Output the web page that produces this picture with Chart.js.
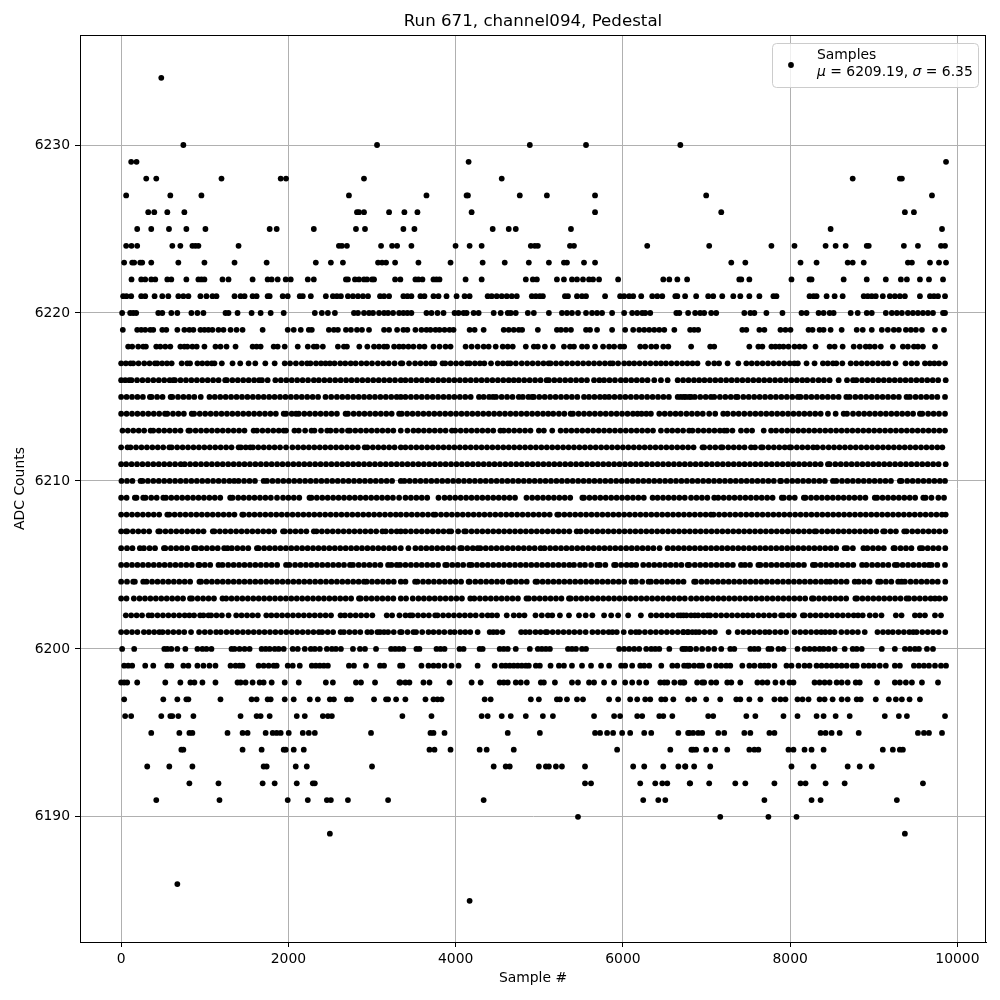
<!DOCTYPE html>
<html>
<head>
<meta charset="utf-8">
<title>Run 671, channel094, Pedestal</title>
<script src="https://cdn.jsdelivr.net/npm/chart.js@4"></script>
<style>
  html, body { margin: 0; padding: 0; background: #fff; }
  canvas { display: block; }
</style>
</head>
<body>
<canvas id="chart" width="1000" height="1000"></canvas>
<script>
// Sample numbers, one list per ADC value
const r6234 = [480];
const r6230 = [744,3060,4887,5559,6687];
const r6229 = [120,184,4155,9864];
const r6228 = [300,420,1200,1908,1972,2904,4551,8748,9312,9336];
const r6227 = [60,588,960,2724,3651,4131,4147,4767,5091,5667,6996,9696];
const r6226 = [324,396,552,756,2820,2844,2904,3204,3387,3543,4191,5667,7176,9372,9480];
const r6225 = [192,360,572,780,1008,1776,1860,2304,2808,2916,3375,3507,4443,4635,4719,5379,8484,9816];
const r6224 = [60,124,192,612,708,852,888,924,1404,2604,2640,2700,3108,3240,3300,3471,3999,4167,4311,4899,4947,4983,5367,5415,6291,7032,7776,8052,8424,8544,8664,8916,8940,9360,9528,9804,9852];
const r6223 = [36,132,156,228,252,360,684,996,1356,1740,2328,2508,2652,3072,3120,3168,3276,3555,3939,4323,4587,4875,5115,5295,5331,5535,5667,7296,7464,8124,8316,8688,8748,8880,9408,9456,9672,9780,9864];
const r6222 = [124,240,288,360,408,552,600,780,924,960,996,1212,1284,1572,1752,1800,1872,1968,2028,2232,2304,2688,2712,2796,2844,2904,2940,3000,3024,3276,3339,3519,3555,3603,3735,3771,3807,4119,4311,4839,4923,4971,5211,5295,5391,5451,5523,5595,5643,5715,5943,6483,6555,6651,6768,7392,7416,7512,8016,8232,8256,8640,8916,9144,9324,9396,9552,9660,9828];
const r6221 = [24,64,120,240,288,400,492,564,684,744,804,948,1020,1092,1140,1356,1428,1476,1572,1620,1752,1776,1932,1992,2136,2172,2268,2448,2532,2580,2628,2712,2772,2832,2892,2952,3096,3144,3204,3375,3423,3471,3579,3627,3735,3795,3891,4011,4107,4167,4383,4431,4491,4551,4611,4671,4731,4911,4959,5007,5043,5307,5343,5451,5511,5559,5787,5967,6015,6075,6123,6219,6351,6411,6471,6627,6651,6744,6876,7020,7080,7188,7320,7404,7512,7632,7800,7836,8232,8280,8316,8436,8532,8628,8880,8928,8976,9024,9108,9192,9252,9312,9372,9552,9672,9720,9768,9852];
const r6220 = [12,108,144,180,444,492,600,672,840,912,984,1248,1284,1392,1560,1668,1788,1944,2316,2400,2472,2556,2784,2832,2904,2964,3012,3084,3144,3192,3252,3324,3375,3423,3471,3651,3711,3783,3855,3987,4035,4095,4131,4215,4275,4455,4539,4623,4659,4719,4863,4935,5115,5271,5331,5391,5463,5559,5631,5691,5751,5871,6015,6111,6171,6231,6267,6327,6639,6675,6780,6864,6924,6972,7056,7116,7452,7524,7572,7716,7908,8136,8196,8340,8400,8472,8520,8724,8808,8916,8976,9144,9216,9276,9336,9408,9468,9528,9588,9648,9708,9828,9852];
const r6219 = [20,192,240,288,348,384,492,540,672,756,816,864,948,996,1044,1092,1164,1224,1308,1380,1452,1692,1992,2064,2148,2244,2280,2484,2544,2592,2688,2748,2820,2880,2964,3144,3204,3300,3375,3423,3519,3591,3651,3699,3759,3807,3867,3927,3975,4167,4227,4335,4575,4635,4695,4755,4795,4983,5211,5259,5319,5379,5559,5607,5691,5871,6027,6123,6195,6255,6315,6375,6435,6495,6615,6804,6852,6900,7428,7476,7632,7692,7884,7944,8004,8220,8268,8352,8400,8484,8616,8796,8868,8976,9096,9168,9240,9300,9384,9444,9504,9576,9732,9840];
const r6218 = [84,132,204,264,296,420,468,528,588,708,756,792,852,904,996,1128,1188,1260,1368,1572,1620,1668,1824,1872,1956,2112,2232,2304,2340,2412,2592,2664,2700,2848,2944,3024,3084,3144,3180,3264,3324,3375,3435,3495,3567,3627,3735,3807,3879,3939,4119,4191,4263,4335,4395,4479,4563,4623,4683,4839,4935,4983,5067,5163,5295,5367,5415,5511,5571,5667,5763,5835,5895,5967,6015,6207,6267,6339,6399,6483,6543,6816,7044,7092,7512,7620,7668,7776,7824,7872,7920,7980,8052,8112,8172,8304,8472,8532,8628,8760,8832,8904,8952,9012,9084,9228,9348,9408,9480,9528,9588,9732];
const r6217 = [0,56,112,144,208,276,340,404,432,490,548,604,724,790,824,912,970,1030,1084,1116,1204,1332,1424,1524,1604,1724,1836,1956,2020,2090,2160,2224,2264,2330,2390,2444,2496,2552,2620,2680,2745,2804,2872,2935,3000,3070,3135,3200,3270,3344,3363,3443,3515,3580,3645,3707,3747,3843,3875,3940,4005,4070,4135,4167,4230,4290,4343,4423,4503,4565,4623,4655,4720,4790,4855,4920,4985,5050,5111,5135,5200,5265,5330,5395,5460,5525,5590,5655,5720,5785,5847,5879,5943,6015,6075,6135,6200,6265,6330,6395,6455,6515,6580,6645,6710,6772,6832,6892,7020,7092,7150,7252,7380,7476,7540,7605,7670,7735,7800,7865,7930,7995,8050,8092,8196,8292,8392,8450,8512,8552,8624,8724,8790,8855,8920,8985,9050,9115,9172,9260,9380,9452,9516,9612,9670,9724,9780,9852];
const r6216 = [0,48,96,124,190,255,320,385,450,515,580,624,644,710,775,840,905,970,1035,1100,1165,1244,1264,1330,1395,1460,1525,1590,1650,1684,1752,1844,1910,1975,2040,2105,2170,2235,2304,2364,2430,2495,2560,2625,2690,2755,2820,2885,2950,3015,3080,3145,3210,3275,3344,3400,3465,3530,3595,3660,3725,3790,3855,3920,3985,4050,4115,4180,4245,4310,4375,4440,4505,4570,4635,4695,4755,4820,4885,4950,5015,5087,5115,5180,5245,5310,5375,5440,5505,5570,5655,5719,5775,5840,5905,5975,6035,6100,6165,6230,6295,6375,6455,6535,6655,6720,6785,6850,6912,6975,7040,7105,7170,7235,7300,7365,7430,7495,7560,7625,7690,7755,7820,7885,7950,8015,8080,8145,8204,8272,8340,8404,8472,8580,8680,8752,8792,8860,8925,8990,9055,9120,9185,9250,9315,9380,9445,9510,9575,9640,9705,9770,9860];
const r6215 = [0,65,130,195,260,344,364,430,495,592,612,680,745,810,875,952,1056,1120,1185,1250,1315,1380,1445,1510,1575,1640,1705,1770,1835,1900,1965,2030,2095,2160,2225,2290,2355,2444,2512,2580,2645,2710,2775,2840,2905,2970,3035,3100,3165,3230,3295,3344,3400,3465,3530,3595,3660,3725,3790,3855,3920,3985,4050,4115,4180,4279,4335,4400,4447,4483,4550,4615,4680,4755,4803,4870,4915,4935,5000,5065,5130,5195,5260,5325,5390,5455,5535,5595,5660,5725,5783,5835,5900,5965,6030,6095,6160,6225,6290,6355,6420,6485,6550,6655,6727,6815,6692,6752,6792,6860,6925,6990,7052,7092,7160,7225,7290,7352,7372,7440,7505,7570,7635,7700,7765,7830,7895,7960,8025,8092,8124,8190,8255,8320,8385,8450,8515,8580,8672,8712,8780,8845,8910,8975,9040,9105,9170,9235,9300,9392,9432,9500,9565,9630,9695,9760,9852];
const r6214 = [0,65,130,195,260,325,390,455,524,552,620,685,750,844,872,940,1005,1070,1135,1200,1265,1330,1395,1460,1525,1590,1655,1720,1785,1850,1944,1972,2040,2092,2124,2190,2255,2320,2385,2450,2515,2580,2684,2712,2780,2845,2910,2975,3040,3105,3170,3235,3324,3355,3420,3485,3550,3615,3680,3745,3810,3875,3940,4005,4070,4135,4200,4265,4330,4395,4460,4525,4590,4655,4720,4785,4850,4915,4980,5045,5107,5167,5235,5300,5375,5403,5470,5535,5600,5665,5730,5795,5860,5925,5990,6055,6120,6175,6223,6280,6335,6435,6500,6565,6630,6692,6760,6825,6890,6955,7032,7104,7200,7252,7320,7385,7452,7520,7585,7650,7715,7780,7845,7910,7975,8040,8105,8170,8235,8300,8365,8452,8544,8640,8680,8752,8820,8885,8950,9015,9080,9145,9210,9275,9340,9405,9470,9552,9580,9650,9715,9780,9852];
const r6213 = [16,80,145,210,275,352,384,450,515,580,645,710,804,824,890,955,1020,1085,1150,1215,1280,1345,1410,1475,1584,1624,1690,1755,1820,1885,1944,1972,2072,2124,2200,2276,2312,2390,2464,2504,2570,2640,2712,2736,2800,2865,2930,2995,3060,3125,3190,3255,3344,3423,3495,3555,3620,3685,3750,3815,3880,3955,3995,4060,4125,4190,4255,4320,4385,4450,4535,4575,4635,4700,4765,4830,4895,4995,5055,5155,5255,5320,5385,5450,5515,5580,5645,5710,5775,5840,5905,5970,6035,6100,6165,6230,6295,6360,6455,6527,6590,6655,6720,6792,6832,6900,6965,7030,7095,7160,7212,7244,7310,7412,7480,7545,7684,7772,7832,7900,7965,8030,8095,8160,8225,8290,8355,8420,8485,8550,8615,8680,8745,8810,8875,8940,9005,9070,9135,9200,9265,9330,9395,9460,9525,9590,9655,9720,9785,9852];
const r6212 = [0,76,112,178,243,308,373,438,503,576,604,670,735,800,865,930,995,1060,1125,1190,1255,1320,1404,1432,1490,1544,1576,1640,1705,1770,1835,1900,1972,2048,2115,2180,2245,2310,2375,2440,2505,2570,2635,2700,2765,2830,2912,2944,3010,3075,3140,3205,3270,3344,3400,3465,3530,3595,3660,3725,3790,3855,3920,3985,4050,4115,4180,4245,4310,4375,4440,4505,4570,4635,4700,4765,4830,4895,4960,5025,5090,5155,5220,5285,5350,5415,5480,5545,5610,5675,5740,5805,5870,5935,6000,6065,6130,6195,6260,6325,6390,6455,6520,6585,6650,6715,6780,6845,6952,6972,7040,7105,7172,7192,7260,7325,7390,7455,7532,7580,7652,7672,7740,7805,7870,7935,7992,8012,8080,8145,8210,8275,8324,8392,8460,8525,8590,8655,8720,8785,8850,8915,8980,9045,9110,9175,9240,9305,9370,9435,9500,9565,9630,9695,9760,9820];
const r6211 = [0,60,125,190,255,320,385,450,515,580,645,712,760,825,890,955,1020,1085,1150,1215,1280,1345,1410,1475,1540,1605,1670,1735,1800,1865,1930,1995,2060,2125,2190,2255,2320,2385,2450,2515,2580,2645,2710,2775,2840,2905,2970,3035,3100,3165,3230,3295,3360,3425,3490,3555,3620,3685,3750,3815,3880,3945,4010,4075,4140,4205,4270,4335,4400,4465,4530,4595,4660,4725,4790,4855,4920,4985,5050,5115,5180,5245,5310,5375,5440,5505,5570,5635,5700,5765,5830,5895,5960,6025,6090,6155,6220,6285,6350,6415,6480,6545,6610,6675,6740,6805,6870,6935,7000,7065,7130,7195,7260,7325,7390,7455,7520,7585,7650,7715,7780,7845,7910,7975,8040,8105,8170,8235,8300,8365,8452,8472,8540,8605,8670,8735,8800,8865,8930,8995,9060,9125,9190,9255,9320,9385,9450,9515,9580,9645,9710,9775,9860];
const r6210 = [4,70,135,232,256,320,385,450,515,580,645,710,775,840,905,970,1035,1100,1165,1230,1295,1352,1404,1470,1535,1600,1704,1744,1810,1875,1940,2005,2070,2135,2200,2265,2330,2395,2460,2525,2590,2655,2720,2785,2850,2915,2980,3045,3110,3175,3240,3344,3387,3450,3515,3580,3645,3710,3775,3840,3905,3970,4035,4100,4165,4230,4295,4360,4425,4490,4555,4620,4685,4750,4815,4880,4945,5010,5075,5140,5205,5270,5335,5400,5465,5530,5595,5660,5725,5790,5855,5920,5985,6050,6115,6180,6245,6310,6375,6440,6505,6570,6635,6700,6765,6830,6895,6960,7025,7090,7155,7220,7285,7350,7415,7480,7545,7610,7675,7740,7805,7880,7892,7960,8025,8090,8155,8220,8285,8350,8415,8512,8552,8620,8685,8750,8815,8880,8945,9010,9075,9140,9205,9312,9332,9400,9465,9530,9595,9660,9725,9790,9852];
const r6209 = [0,65,164,184,264,292,360,425,504,536,600,665,730,795,860,925,990,1055,1120,1185,1304,1332,1400,1465,1530,1595,1660,1725,1790,1864,1936,2000,2065,2130,2252,2276,2340,2405,2470,2535,2600,2665,2730,2795,2860,2925,2990,3055,3120,3185,3250,3324,3400,3465,3530,3595,3660,3795,3867,3930,3995,4060,4125,4190,4255,4320,4385,4450,4515,4580,4645,4710,4847,4915,4980,5045,5110,5175,5240,5305,5370,5515,5535,5600,5665,5730,5795,5860,5925,5990,6055,6120,6185,6250,6355,6415,6480,6545,6610,6675,6740,6815,6880,6945,7010,7092,7140,7205,7270,7335,7400,7465,7530,7595,7660,7725,7790,7900,7924,7990,8055,8164,8184,8250,8315,8380,8445,8510,8575,8640,8705,8770,8835,8900,9012,9040,9105,9170,9235,9300,9365,9430,9495,9592,9620,9690,9772,9840];
const r6208 = [0,65,130,195,260,325,390,455,552,576,640,705,770,835,900,965,1030,1095,1160,1225,1290,1355,1448,1464,1530,1595,1660,1725,1790,1855,1920,1985,2050,2115,2180,2245,2310,2375,2440,2505,2570,2635,2700,2765,2830,2895,2960,3025,3090,3155,3220,3285,3344,3410,3475,3540,3605,3670,3735,3759,3825,3890,3955,4020,4085,4150,4215,4280,4345,4410,4475,4540,4605,4670,4735,4800,4865,4930,4995,5060,5125,5215,5235,5300,5365,5430,5495,5560,5625,5690,5755,5820,5885,5950,6015,6080,6145,6210,6275,6340,6405,6470,6535,6600,6665,6730,6795,6860,6925,6990,7052,7084,7150,7215,7280,7345,7410,7475,7540,7605,7670,7735,7800,7865,7930,7995,8060,8125,8190,8255,8320,8385,8450,8515,8580,8645,8710,8775,8840,8905,8970,9035,9100,9165,9230,9295,9360,9425,9490,9555,9620,9685,9750,9815,9860];
const r6207 = [0,56,72,140,205,270,335,444,464,530,595,660,725,790,855,920,985,1096,1116,1180,1245,1310,1375,1440,1505,1570,1635,1700,1765,1830,1936,1956,2020,2085,2150,2215,2304,2336,2400,2465,2530,2595,2660,2725,2790,2855,2920,2985,3050,3124,3164,3230,3295,3344,3400,3465,3530,3595,3660,3725,3790,3855,3919,3947,4030,4103,4123,4190,4255,4320,4385,4450,4515,4580,4645,4710,4775,4840,4905,4970,5035,5100,5165,5230,5295,5360,5447,5495,5563,5630,5695,5760,5825,5890,5955,6020,6085,6150,6215,6280,6345,6410,6475,6540,6605,6670,6735,6800,6865,6930,6995,7060,7125,7190,7255,7320,7385,7450,7515,7580,7645,7710,7775,7840,7905,7970,8035,8100,8165,8230,8292,8312,8380,8445,8510,8575,8640,8705,8770,8835,8900,8965,9030,9112,9132,9200,9265,9364,9392,9460,9525,9590,9655,9720,9785,9855];
const r6206 = [0,70,135,224,272,340,405,512,528,595,660,725,790,872,896,960,1025,1090,1155,1232,1272,1324,1390,1455,1520,1624,1644,1710,1775,1840,1905,1970,2035,2100,2165,2230,2295,2360,2425,2490,2555,2620,2685,2750,2815,2880,2945,3010,3075,3140,3205,3270,3344,3435,3519,3585,3650,3715,3780,3845,3910,3975,4055,4075,4140,4205,4263,4295,4360,4425,4490,4555,4620,4685,4750,4815,4880,4945,5015,5063,5130,5195,5260,5325,5390,5455,5520,5585,5650,5715,5780,5845,5910,5975,6040,6105,6170,6235,6300,6365,6439,6535,6600,6665,6730,6795,6860,6925,6990,7055,7120,7185,7250,7315,7380,7445,7510,7575,7640,7705,7770,7835,7900,7965,8030,8095,8160,8225,8290,8355,8420,8485,8550,8652,8680,8750,8876,8924,8990,9055,9120,9236,9252,9320,9385,9450,9552,9580,9645,9710,9775,9855];
const r6205 = [0,65,130,195,260,325,390,455,520,585,650,715,780,845,924,936,1000,1065,1164,1212,1280,1345,1410,1475,1540,1605,1670,1735,1800,1865,1972,2012,2080,2145,2210,2275,2340,2405,2470,2535,2600,2665,2736,2772,2840,2905,2970,3035,3100,3192,3232,3296,3336,3400,3465,3530,3595,3660,3725,3790,3875,3895,3960,4025,4090,4163,4191,4255,4320,4385,4450,4515,4580,4645,4710,4775,4840,4905,4970,5035,5100,5165,5230,5295,5360,5415,5487,5547,5620,5695,5723,5790,5895,5915,5980,6045,6103,6159,6243,6310,6375,6440,6505,6570,6635,6700,6775,6792,6860,6925,6990,7055,7120,7185,7250,7315,7412,7460,7520,7620,7644,7710,7775,7840,7905,7970,8035,8100,8165,8272,8300,8365,8430,8495,8560,8625,8690,8755,8860,8912,8980,9045,9110,9175,9252,9280,9345,9410,9475,9540,9605,9660,9692,9760,9852];
const r6204 = [0,70,144,164,264,304,370,435,500,565,630,695,760,825,936,956,1020,1085,1150,1215,1280,1345,1410,1475,1540,1605,1670,1735,1800,1865,1930,1995,2060,2125,2190,2255,2320,2385,2450,2515,2580,2645,2710,2775,2840,2904,2936,3000,3065,3130,3195,3260,3344,3400,3515,3543,3610,3675,3740,3805,3870,3935,4000,4065,4155,4167,4235,4300,4365,4430,4495,4560,4635,4655,4720,4785,4850,4955,4975,5040,5105,5170,5235,5300,5365,5430,5495,5560,5625,5690,5755,5820,5885,5950,6015,6103,6155,6230,6307,6335,6400,6465,6530,6595,6660,6725,6852,6872,6940,7005,7070,7135,7200,7265,7330,7395,7460,7525,7590,7655,7720,7785,7850,7915,7980,8045,8110,8175,8240,8305,8370,8432,8480,8545,8610,8675,8772,8820,8884,8950,9052,9080,9145,9210,9292,9332,9372,9440,9505,9570,9635,9700,9765,9855];
const r6203 = [0,64,152,220,285,350,415,480,545,610,675,740,824,848,915,980,1045,1110,1212,1256,1320,1385,1450,1515,1580,1645,1710,1775,1840,1905,1970,2035,2100,2165,2230,2295,2360,2425,2490,2555,2620,2685,2750,2844,2864,2930,2995,3060,3125,3190,3255,3344,3407,3487,3555,3620,3685,3750,3815,3880,3945,4010,4075,4175,4223,4290,4355,4420,4485,4550,4615,4680,4745,4847,4875,4940,5005,5070,5135,5200,5265,5355,5375,5440,5505,5570,5635,5700,5765,5830,5895,5960,6025,6090,6155,6220,6285,6350,6415,6480,6545,6610,6675,6740,6815,6880,6945,7010,7075,7140,7205,7270,7335,7400,7465,7530,7595,7660,7725,7790,7855,7920,7985,8050,8115,8180,8260,8280,8345,8410,8475,8540,8605,8670,8780,8800,8865,8930,8995,9060,9125,9190,9255,9320,9392,9420,9485,9550,9615,9680,9732,9784,9852];
const r6202 = [56,120,185,250,328,368,435,500,565,630,695,760,816,872,944,984,1044,1076,1140,1205,1284,1376,1440,1505,1570,1635,1736,1796,1860,1925,1990,2055,2120,2185,2250,2315,2380,2445,2510,2624,2676,2740,2805,2870,2935,3004,3176,3240,3328,3400,3455,3483,3550,3615,3680,3755,3783,3850,3915,3980,4045,4110,4175,4240,4315,4383,4435,4495,4611,4695,4760,4823,4955,5030,5103,5155,5247,5355,5475,5555,5635,5775,5860,5943,6063,6215,6335,6400,6465,6530,6595,6660,6725,6815,6692,6760,6860,6900,6960,7012,7044,7110,7175,7240,7305,7370,7435,7492,7552,7620,7685,7750,7815,7892,7916,7980,8045,8152,8172,8240,8305,8370,8435,8500,8565,8630,8695,8760,8812,8868,8952,9020,9092,9264,9332,9492,9550,9612,9732,9804];
const r6201 = [0,65,130,195,272,332,395,456,496,560,625,690,755,836,932,1000,1065,1136,1192,1260,1325,1390,1456,1520,1585,1650,1715,1780,1845,1910,1975,2040,2105,2170,2235,2300,2364,2404,2470,2535,2624,2664,2730,2795,2860,2944,2992,3064,3096,3144,3192,3260,3336,3355,3425,3495,3527,3600,3675,3735,3800,3865,3935,3987,4055,4115,4175,4263,4407,4450,4495,4559,4783,4835,4887,4955,5015,5075,5095,5160,5225,5290,5355,5420,5485,5555,5635,5700,5765,5830,5875,5927,6010,6095,6155,6195,6263,6330,6395,6460,6525,6590,6655,6720,6775,6724,6780,6830,6872,6912,6975,7040,7100,7264,7372,7440,7505,7570,7635,7700,7752,7820,7885,7952,8052,8120,8185,8250,8315,8372,8420,8475,8532,8612,8680,8745,8810,8892,9044,9110,9172,9228,9295,9360,9425,9472,9512,9580,9645,9710,9775,9855];
const r6200 = [12,156,516,552,600,672,768,912,972,1020,1080,1320,1356,1416,1476,1536,1680,1728,1776,1836,1884,1944,2052,2112,2196,2268,2316,2376,2460,2520,2568,2628,2772,2856,2916,3048,3228,3276,3324,3375,3531,3567,3771,3819,3867,4047,4095,4287,4323,4527,4575,4623,4719,4887,4983,5031,5079,5127,5343,5391,5439,5511,5559,5955,6015,6075,6135,6195,6279,6339,6387,6435,6555,6711,6759,6807,6732,6804,6876,6948,7020,7092,7176,7284,7332,7524,7572,7620,7740,7776,7860,7920,8088,8172,8232,8292,8352,8400,8460,8532,8652,8748,8796,8856,9096,9252,9372,9432,9492,9540,9636,9708];
const r6199 = [36,84,132,288,384,552,600,744,804,912,984,1056,1128,1308,1368,1416,1452,1644,1704,1764,1824,1860,1992,2052,2136,2280,2328,2376,2424,2472,2724,2784,2928,3096,3144,3336,3363,3591,3675,3735,3795,3867,3951,4035,4263,4467,4551,4599,4647,4695,4743,4791,4839,4875,4959,5007,5135,5235,5295,5391,5511,5619,5739,5835,5979,6027,6111,6207,6255,6315,6459,6591,6651,6771,6732,6792,6852,6912,6948,7032,7116,7176,7236,7284,7428,7512,7572,7644,7692,7740,7812,7956,8016,8100,8172,8232,8316,8376,8436,8496,8556,8616,8676,8748,8796,8880,8940,9000,9072,9144,9252,9312,9480,9540,9600,9660,9732,9804,9864];
const r6198 = [0,36,72,192,528,708,828,876,972,1128,1392,1428,1488,1572,1656,1704,1800,1956,2124,2448,2532,2808,2868,3036,3328,3339,3399,3447,3615,3687,3927,4191,4299,4527,4575,4623,4719,4779,4851,5019,5055,5187,5391,5463,5595,5655,5775,5895,6027,6111,6195,6279,6447,6495,6531,6615,6687,6735,6720,6888,6948,6972,7056,7116,7248,7296,7404,7608,7668,7728,7824,7908,7992,8040,8292,8352,8412,8472,8556,8616,8688,8784,8832,9040,9252,9312,9384,9456,9576,9768];
const r6197 = [36,504,672,780,804,1188,1560,1620,1752,1788,1956,2064,2256,2352,2496,2544,2700,2748,3024,3168,3192,3288,3399,3639,3735,3783,3831,4347,4419,4899,4995,5211,5247,5331,5451,5523,5835,5943,6087,6171,6267,6327,6459,6507,6603,6780,6852,6996,7164,7356,7404,7512,7644,7812,7884,7944,8088,8148,8220,8352,8412,8508,8616,8688,8796,8844,9024,9180,9264,9336,9428,9552];
const r6196 = [48,120,480,588,612,684,864,1428,1620,1668,1776,2100,2196,2412,2472,2520,3363,3711,4311,4383,4551,4659,4839,5043,5163,5655,5895,5967,6171,6231,6435,6483,6591,7020,7080,7476,7584,7920,8088,8316,8400,8544,8712,9132,9300,9396,9852];
const r6195 = [360,696,816,852,1272,1452,1512,1728,1812,1860,1908,2004,2172,2244,2316,2988,3699,3735,3867,4623,5007,5667,5727,5811,5883,5991,6087,6255,6339,6663,6795,6780,6840,6900,6948,7140,7212,7452,7524,7752,7812,8364,8424,8496,8592,8820,9528,9600,9660,9816];
const r6194 = [720,744,1452,1680,1944,1968,2064,2184,3687,3747,3939,4287,4371,4695,5931,6567,6819,6840,6876,6996,7104,7248,7512,7572,7620,7980,8040,8172,8256,8400,9108,9228,9312,9348];
const r6193 = [312,576,852,1704,1740,2088,2220,3000,4455,4599,4647,4995,5079,5115,5199,5271,5547,6123,6255,6483,6663,6747,6744,6852,7044,8016,8280,8688,8832,8976];
const r6192 = [816,1164,1692,1836,2100,2292,2316,5547,5619,6207,6387,6471,6531,6799,6804,7032,7344,7464,7812,8124,8184,8424,8652,9588];
const r6191 = [420,1176,1992,2232,2460,2508,2712,3192,4335,6243,6423,6507,7692,8256,8364,9276];
const r6190 = [5463,7164,7740,8076];
const r6189 = [2496,9372];
const r6186 = [672];
const r6185 = [4167];

const adcValues = [6234,6230,6229,6228,6227,6226,6225,6224,6223,6222,6221,6220,6219,6218,6217,6216,6215,6214,6213,6212,6211,6210,6209,6208,6207,6206,6205,6204,6203,6202,6201,6200,6199,6198,6197,6196,6195,6194,6193,6192,6191,6190,6189,6186,6185];
const sampleRows = [r6234,r6230,r6229,r6228,r6227,r6226,r6225,r6224,r6223,r6222,r6221,r6220,r6219,r6218,r6217,r6216,r6215,r6214,r6213,r6212,r6211,r6210,r6209,r6208,r6207,r6206,r6205,r6204,r6203,r6202,r6201,r6200,r6199,r6198,r6197,r6196,r6195,r6194,r6193,r6192,r6191,r6190,r6189,r6186,r6185];

const xTicks = [0, 2000, 4000, 6000, 8000, 10000];
const yTicks = [6190, 6200, 6210, 6220, 6230];

const points = [];
adcValues.forEach((adc, i) => {
  sampleRows[i].forEach(s => points.push({ x: s, y: adc }));
});

const FONT = '"DejaVu Sans"';

// matplotlib style box on all four sides plus the two line legend
const frameAndLegend = {
  id: 'frameAndLegend',
  afterDraw(chart) {
    const { ctx, chartArea: a } = chart;
    ctx.save();
    ctx.strokeStyle = '#000';
    ctx.lineWidth = 1;
    ctx.strokeRect(a.left + 0.5, a.top + 0.5, a.right - a.left - 1, a.bottom - a.top);

    const bx = a.right - 214, by = a.top + 8, bw = 206, bh = 44;
    ctx.beginPath();
    ctx.roundRect(bx + 0.5, by + 0.5, bw, bh, 4);
    ctx.fillStyle = 'rgba(255,255,255,0.8)';
    ctx.fill();
    ctx.strokeStyle = '#cccccc';
    ctx.stroke();

    ctx.fillStyle = '#000';
    ctx.beginPath();
    ctx.arc(bx + 19, by + 22, 2.9, 0, Math.PI * 2);
    ctx.fill();

    ctx.textBaseline = 'alphabetic';
    ctx.textAlign = 'left';
    ctx.font = '13.9px ' + FONT;
    ctx.fillText('Samples', bx + 45, by + 16);

    let tx = bx + 45;
    const runs = [['μ', true], [' = 6209.19, ', false], ['σ', true], [' = 6.35', false]];
    runs.forEach(([text, italic]) => {
      ctx.font = (italic ? 'italic ' : '') + '13.9px ' + FONT;
      ctx.fillText(text, tx, by + 33);
      tx += ctx.measureText(text).width;
    });
    ctx.restore();
  }
};

new Chart(document.getElementById('chart').getContext('2d'), {
  type: 'scatter',
  data: {
    datasets: [{
      label: 'Samples',
      data: points,
      backgroundColor: '#000',
      pointBackgroundColor: '#000',
      pointBorderWidth: 0,
      pointRadius: 2.9
    }]
  },
  options: {
    responsive: false,
    animation: false,
    layout: { padding: { right: 14 } },
    plugins: {
      legend: { display: false },
      tooltip: { enabled: false },
      title: {
        display: true,
        fullSize: false,
        text: 'Run 671, channel094, Pedestal',
        color: '#000',
        font: { family: FONT, size: 16.67, weight: 'normal', lineHeight: 1.2 },
        padding: { top: 12, bottom: 3 }
      }
    },
    scales: {
      x: {
        type: 'linear',
        min: -492,
        max: 10342,
        afterFit: s => { s.height = 58; },
        afterBuildTicks: s => { s.ticks = xTicks.map(v => ({ value: v })); },
        grid: { color: '#b0b0b0', lineWidth: 1, tickColor: '#000', tickLength: 5 },
        border: { color: '#000', width: 1 },
        ticks: {
          color: '#000',
          padding: 4,
          maxRotation: 0,
          font: { family: FONT, size: 13.9 },
          callback: v => String(v)
        },
        title: {
          display: true,
          text: 'Sample #',
          color: '#000',
          padding: { top: 4, bottom: 13 },
          font: { family: FONT, size: 13.9 }
        }
      },
      y: {
        type: 'linear',
        min: 6182.55,
        max: 6236.55,
        afterFit: s => { s.width = 80; },
        afterBuildTicks: s => { s.ticks = yTicks.map(v => ({ value: v })); },
        grid: { color: '#b0b0b0', lineWidth: 1, tickColor: '#000', tickLength: 5 },
        border: { color: '#000', width: 1 },
        ticks: {
          color: '#000',
          padding: 5,
          font: { family: FONT, size: 13.9 },
          callback: v => String(v)
        },
        title: {
          display: true,
          text: 'ADC Counts',
          color: '#000',
          padding: { top: 12, bottom: 4 },
          font: { family: FONT, size: 13.9 }
        }
      }
    }
  },
  plugins: [frameAndLegend]
});
</script>
</body>
</html>
